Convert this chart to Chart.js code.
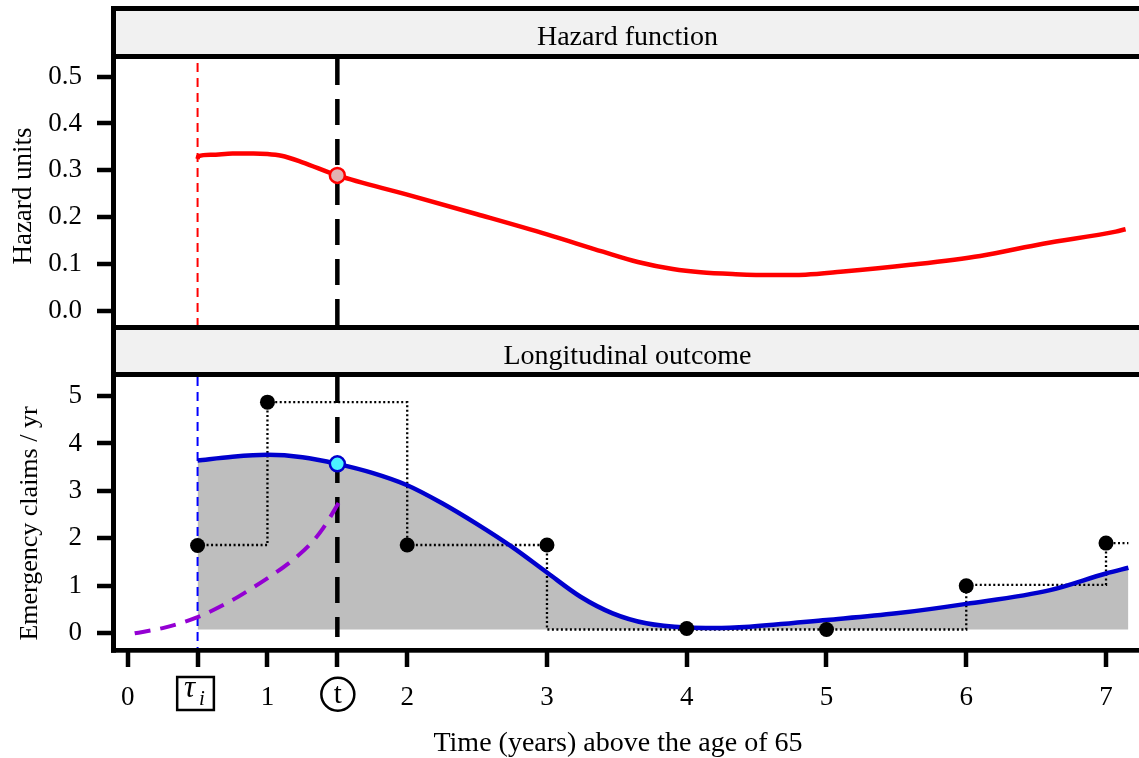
<!DOCTYPE html>
<html><head><meta charset="utf-8">
<script src="https://cdn.jsdelivr.net/npm/chart.js@4/dist/chart.umd.min.js"></script>
<style>
html,body{margin:0;padding:0;background:#fff;overflow:hidden;}
#wrap{position:relative;width:1139px;height:758px;}
canvas{position:absolute;left:0;}
#cA{top:0;width:1139px;height:330px;}
#cB{top:330px;width:1139px;height:428px;}
</style></head><body>
<div id="wrap">
<canvas id="cA" width="1139" height="330"></canvas>
<canvas id="cB" width="1139" height="428"></canvas>
</div>
<script>
// ---------- data ----------
const hazardTime  = [0.5, 0.505, 0.6, 0.75, 0.9, 1.0, 1.1, 1.25, 1.5, 2.0, 2.5, 3.0, 3.4, 3.65, 3.9, 4.1, 4.35, 4.6, 4.85, 5.1, 5.6, 6.1, 6.55, 7.07, 7.14];
const hazardValue = [0.324, 0.330, 0.333, 0.336, 0.336, 0.335, 0.331, 0.317, 0.289, 0.248, 0.206, 0.163, 0.126, 0.104, 0.089, 0.082, 0.078, 0.076, 0.077, 0.083, 0.098, 0.117, 0.143, 0.169, 0.174];

const fitTime  = [0.5, 0.75, 1.0, 1.25, 1.5, 1.75, 2.0, 2.25, 2.5, 2.75, 3.0, 3.24, 3.47, 3.71, 4.0, 4.2, 4.45, 5.0, 5.5, 6.0, 6.6, 7.0, 7.16];
const fitValue = [3.64, 3.72, 3.76, 3.71, 3.57, 3.38, 3.12, 2.74, 2.30, 1.82, 1.28, 0.77, 0.42, 0.21, 0.12, 0.11, 0.14, 0.28, 0.42, 0.62, 0.91, 1.26, 1.38];

const obsTime  = [0.5, 1.0, 2.0, 3.0, 4.0, 5.0, 6.0, 7.0];
const obsValue = [1.85, 4.87, 1.86, 1.86, 0.10, 0.08, 1.00, 1.90];

const stepTime  = [0.5, 1.0, 1.0, 2.0, 2.0, 3.0, 3.0, 6.0, 6.0, 7.0, 7.0, 7.16];
const stepValue = [1.86, 1.86, 4.87, 4.87, 1.86, 1.86, 0.08, 0.08, 1.02, 1.02, 1.90, 1.90];

const cumTime  = [0.05, 0.25, 0.5, 0.75, 0.9, 1.05, 1.18, 1.31, 1.4, 1.51];
const cumValue = [0.0, 0.11, 0.34, 0.70, 0.97, 1.26, 1.54, 1.89, 2.22, 2.75];

const fillBase = 0.08;
const tauTime = 0.5;
const tTime = 1.5;
const hazardAtT = 0.289;
const fitAtT = 3.57;
const fitCutLow = -0.08;

const hazardTicks = [0, 0.1, 0.2, 0.3, 0.4, 0.5];
const claimTicks  = [0, 1, 2, 3, 4, 5];
const timeTicks   = [0, 0.5, 1, 1.5, 2, 3, 4, 5, 6, 7];
const timeTickLabels = ['0', 'τi', '1', 't', '2', '3', '4', '5', '6', '7'];

const panelTitles = ['Hazard function', 'Longitudinal outcome'];
const yTitles = ['Hazard units', 'Emergency claims / yr'];
const xTitle = 'Time (years) above the age of 65';

// ---------- ranges ----------
const X_MIN = -0.0837, X_MAX = 7.236;
const HZ_MIN = -0.0306, HZ_MAX = 0.5378;
const CL_MIN = -0.31, CL_MAX = 5.40;

const FAM = '"Liberation Serif", "Times New Roman", serif';
Chart.defaults.font.family = FAM;
Chart.defaults.color = '#000';
const STRIP = '#F1F1F1';
const pts = (xs, ys) => xs.map((x, i) => ({x, y: ys[i]}));
const noPad = s => { s.paddingTop = 0; s.paddingBottom = 0; s.paddingLeft = 0; s.paddingRight = 0; };

const yTickGrid = {drawOnChartArea:false, drawTicks:true, tickLength:19, tickWidth:4.5, tickColor:'#000', lineWidth:0};

// ---------- chart A: hazard ----------
const decorA = {
  id:'decorA',
  afterDraw(chart){
    const c = chart.ctx, a = chart.chartArea, W = chart.width;
    c.save();
    c.fillStyle = STRIP; c.fillRect(116, 11, W-116, 43);
    c.fillStyle = '#000';
    c.fillRect(111, 6, W-111, 5);
    c.fillRect(111, 54, W-111, 5);
    c.fillRect(111, 325, W-111, 5);
    c.fillRect(111, 6, 5, 324);
    c.font = '28px ' + FAM; c.textAlign = 'center'; c.textBaseline = 'alphabetic';
    c.fillText(panelTitles[0], (a.left + a.right)/2, 44.5);
    c.translate(31, (a.top + a.bottom)/2 + 4);
    c.rotate(-Math.PI/2);
    c.font = '27px ' + FAM;
    c.fillText(yTitles[0], 0, 0);
    c.restore();
  }
};

new Chart(document.getElementById('cA'), {
  type:'line',
  data:{datasets:[
    {data:[{x:tauTime,y:HZ_MAX},{x:tauTime,y:HZ_MIN}], borderColor:'#FF0000', borderWidth:2, borderDash:[9,6], borderDashOffset:-4, pointRadius:0, order:5},
    {data:[{x:tTime,y:HZ_MAX},{x:tTime,y:HZ_MIN}], borderColor:'#000', borderWidth:4.5, borderDash:[26,14], pointRadius:0, order:4},
    {data:pts(hazardTime, hazardValue), borderColor:'#FF0000', borderWidth:4.5, pointRadius:0, cubicInterpolationMode:'monotone', order:2},
    {data:[{x:tTime,y:hazardAtT}], showLine:false, pointRadius:7.5, pointBorderWidth:2.5, pointBackgroundColor:'#E2B3B3', pointBorderColor:'#FF0000', order:1}
  ]},
  options:{
    responsive:false, animation:false,
    layout:{autoPadding:false, padding:{left:0,right:0,top:59,bottom:5}},
    plugins:{legend:{display:false}, tooltip:{enabled:false}},
    scales:{
      x:{type:'linear', min:X_MIN, max:X_MAX, display:false, afterFit:noPad},
      y:{type:'linear', min:HZ_MIN, max:HZ_MAX,
         afterFit(s){ s.width = 116; noPad(s); },
         afterBuildTicks(s){ s.ticks = hazardTicks.map(v => ({value:v})); },
         ticks:{callback:v => v.toFixed(1), font:{size:27, family:FAM}, color:'#000', padding:15},
         grid:yTickGrid, border:{display:false}}
    }
  },
  plugins:[decorA]
});

// ---------- chart B: longitudinal ----------
const decorB = {
  id:'decorB',
  afterDraw(chart){
    const c = chart.ctx, a = chart.chartArea, W = chart.width, xs = chart.scales.x;
    c.save();
    c.fillStyle = STRIP; c.fillRect(116, 0, W-116, 42);
    c.fillStyle = '#000';
    c.fillRect(111, 42, W-111, 5);
    c.fillRect(111, 318, W-111, 4.7);
    c.fillRect(111, 0, 5, 322.7);
    c.textAlign = 'center'; c.textBaseline = 'alphabetic';
    c.font = '28px ' + FAM;
    c.fillText(panelTitles[1], (a.left + a.right)/2, 33.5);
    c.font = '28px ' + FAM;
    c.fillText(xTitle, 618, 421);
    // special tick labels
    const px = xs.getPixelForValue(tauTime);
    c.lineWidth = 2.5; c.strokeStyle = '#000';
    c.strokeRect(px - 20.4, 347, 36.7, 33);
    c.textAlign = 'left';
    c.font = 'italic 31px ' + FAM;
    c.fillText(timeTickLabels[1].charAt(0), px - 13.5, 367);
    c.font = 'italic 21px ' + FAM;
    c.fillText(timeTickLabels[1].charAt(1), px + 1.5, 375);
    const pt = xs.getPixelForValue(tTime);
    c.beginPath(); c.arc(pt + 0.5, 364.2, 16.5, 0, Math.PI*2); c.stroke();
    c.textAlign = 'center';
    c.font = '29px ' + FAM;
    c.fillText(timeTickLabels[3], pt + 0.5, 372.5);
    // y title
    c.translate(37, (a.top + a.bottom)/2 + 11);
    c.rotate(-Math.PI/2);
    c.font = '26px ' + FAM;
    c.fillText(yTitles[1], 0, 0);
    c.restore();
  }
};

new Chart(document.getElementById('cB'), {
  type:'line',
  data:{datasets:[
    {data:pts(fitTime, fitValue), borderWidth:0, pointRadius:0, cubicInterpolationMode:'monotone', fill:{value:fillBase}, backgroundColor:'#BEBEBE', order:10},
    {data:[{x:tauTime,y:CL_MAX},{x:tauTime,y:CL_MIN}], borderColor:'#0000FF', borderWidth:2, borderDash:[9,6], pointRadius:0, order:9},
    {data:pts(stepTime, stepValue), borderColor:'#000', borderWidth:2.3, borderDash:[2,2.5], pointRadius:0, tension:0, order:8},
    {data:[{x:tTime,y:CL_MAX},{x:tTime,y:fitCutLow}], borderColor:'#000', borderWidth:4.5, borderDash:[26,14], pointRadius:0, order:7},
    {data:pts(fitTime, fitValue), borderColor:'#0000CD', borderWidth:4.5, pointRadius:0, cubicInterpolationMode:'monotone', order:6},
    {data:pts(cumTime, cumValue), borderColor:'#9400D3', borderWidth:4, borderDash:[16,10], pointRadius:0, cubicInterpolationMode:'monotone', order:5},
    {data:pts(obsTime, obsValue), showLine:false, pointRadius:7.5, pointBorderWidth:0, pointBackgroundColor:'#000', order:2},
    {data:[{x:tTime,y:fitAtT}], showLine:false, pointRadius:7.5, pointBorderWidth:2.5, pointBackgroundColor:'#4CF2FF', pointBorderColor:'#0000CD', order:1}
  ]},
  options:{
    responsive:false, animation:false,
    layout:{autoPadding:false, padding:{left:0,right:0,top:47,bottom:0}},
    plugins:{legend:{display:false}, tooltip:{enabled:false}},
    scales:{
      x:{type:'linear', min:X_MIN, max:X_MAX,
         afterFit(s){ s.height = 110; noPad(s); },
         afterBuildTicks(s){ s.ticks = timeTicks.map(v => ({value:v})); },
         ticks:{callback:(v, i) => (timeTickLabels[i] === 'τi' || timeTickLabels[i] === 't') ? '' : timeTickLabels[i],
                font:{size:27, family:FAM}, color:'#000', padding:15, autoSkip:false, maxRotation:0},
         grid:{drawOnChartArea:false, drawTicks:true, tickLength:19, tickWidth:4.5, tickColor:'#000', lineWidth:0},
         border:{display:false}},
      y:{type:'linear', min:CL_MIN, max:CL_MAX,
         afterFit(s){ s.width = 116; noPad(s); },
         afterBuildTicks(s){ s.ticks = claimTicks.map(v => ({value:v})); },
         ticks:{callback:v => String(v), font:{size:27, family:FAM}, color:'#000', padding:15},
         grid:yTickGrid, border:{display:false}}
    }
  },
  plugins:[decorB]
});
</script>
</body></html>
